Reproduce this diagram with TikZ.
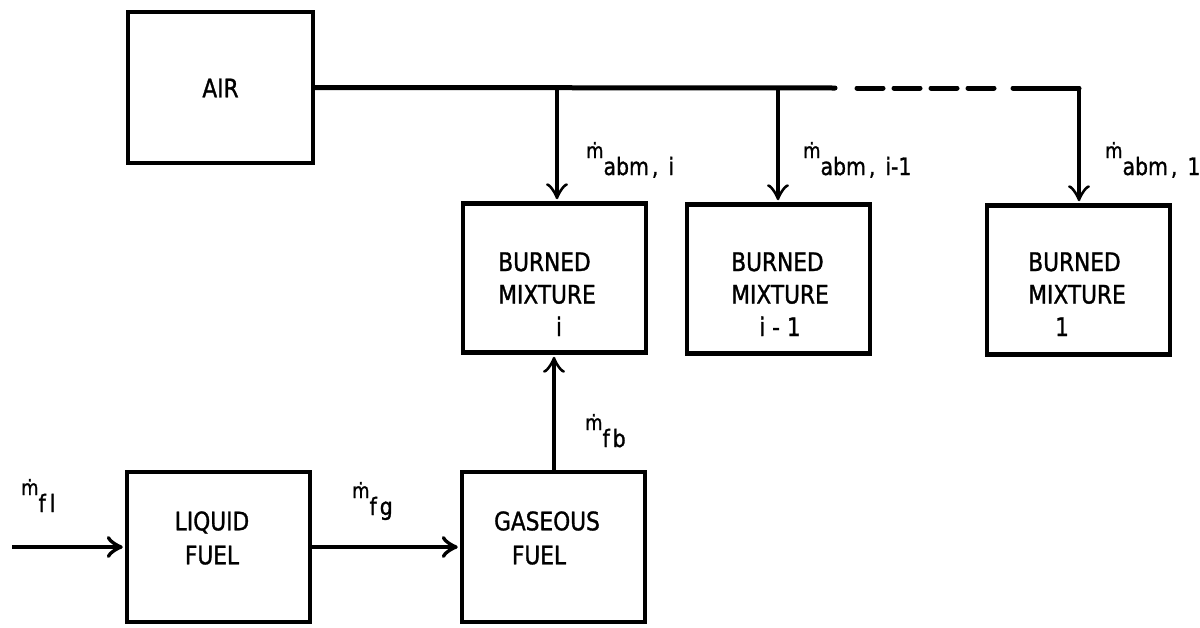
\documentclass[tikz,border=0pt]{standalone}
\usepackage{fontspec}
\setmainfont{DejaVu Sans}[FakeStretch=0.85,FakeBold=1.2]
\usetikzlibrary{arrows.meta}
\newcommand\boxfont{\fontsize{25.5}{32.5}\selectfont}
\newcommand\flowfont{\fontsize{24}{24}\selectfont}
\newcommand\mflow[1]{\raisebox{17pt}{\fontsize{21}{21}\selectfont ṁ}#1}
\begin{document}
\begin{tikzpicture}[x=1pt,y=-1pt,
  box/.style={draw, line width=4.5pt, inner sep=0pt, minimum width=183pt, minimum height=149pt},
  txt/.style={font=\boxfont, inner sep=0pt, align=center},
  flow/.style={font=\flowfont, inner sep=0pt, anchor=base west},
  bus/.style={line width=5pt, line cap=round},
  tip/.style={-{Classical TikZ Rightarrow[length=16pt,width=22pt]}, shorten >=2pt},
  feed/.style={tip, line width=3.2pt},
  mainflow/.style={tip, line width=4.2pt}]
\useasboundingbox (0,0) rectangle (1200,627);

% boxes
\node[box, minimum width=185pt, minimum height=151pt] (air) at (220.5,87.5) {};
\node[box] (bmi)  at (554.5,278) {};
\node[box] (bmim) at (778.5,279) {};
\node[box] (bmo)  at (1078.5,280) {};
\node[box, minimum height=150pt] (liq) at (218.5,547) {};
\node[box, minimum height=150pt] (gas) at (553.5,547) {};

% box texts
\node[txt] (airt) at (220.5,88) {AIR};
\node[txt] (bmit) at (547,297) {\begin{tabular}{@{}l@{}}BURNED\\MIXTURE\\\multicolumn{1}{@{}c@{}}{\hspace*{24pt}i}\end{tabular}};
\node[txt] (bmimt) at (780,297) {\begin{tabular}{@{}l@{}}BURNED\\MIXTURE\\\multicolumn{1}{@{}c@{}}{i - 1}\end{tabular}};
\node[txt] (bmot) at (1077,297) {\begin{tabular}{@{}l@{}}BURNED\\MIXTURE\\\multicolumn{1}{@{}c@{}}{1\hspace*{30pt}}\end{tabular}};
\node[txt, font=\fontsize{25.5}{34}\selectfont] (liqt) at (212,538) {LIQUID\\FUEL};
\node[txt, font=\fontsize{25.5}{34}\selectfont] (gast) at (547,538) {GASEOUS\\FUEL\hspace*{16pt}};

% air distribution line
\coordinate (ji)  at (557,88);
\coordinate (jim) at (778,88);
\coordinate (jo)  at (1079,88);
\coordinate (d0)  at (835,88);
\coordinate (d1)  at (857,88);
\coordinate (d2)  at (1000,88);
\coordinate (d3)  at (1013,88);
\draw[bus] (air.east) -- (d0);
\draw[bus, dash pattern=on 26pt off 11pt] (d1) -- (d2);
\draw[bus, line join=miter] (d3) -- (jo);
\draw[feed] (ji) -- (ji |- bmi.north);
\draw[feed] (jim) -- (jim |- bmim.north);
\draw[feed] (jo) -- (jo |- bmo.north);

% fuel flows
\coordinate (in) at (12,547);
\draw[mainflow] (in) -- (liq.west);
\draw[mainflow] (liq.east) -- (gas.west);
\draw[feed] ([xshift=0.5pt]gas.north) -- ([xshift=0.5pt]gas.north |- bmi.south);

% flow labels
\node[flow] (lai)  at (586,175)  {\mflow{abm\hspace{3pt},\hspace{10pt}i}};
\node[flow] (laim) at (803,175)  {\mflow{abm\hspace{3pt},\hspace{10pt}i-1}};
\node[flow] (lao)  at (1105,175) {\mflow{abm\hspace{3pt},\hspace{10pt}1}};
\node[flow] (lfb)  at (585,447)  {\mflow{f\hspace{3pt}b}};
\node[flow] (lfg)  at (352,515)  {\mflow{f\hspace{3pt}g}};
\node[flow] (lfl)  at (21,512)   {\mflow{f\hspace{4pt}l}};
\end{tikzpicture}
\end{document}
